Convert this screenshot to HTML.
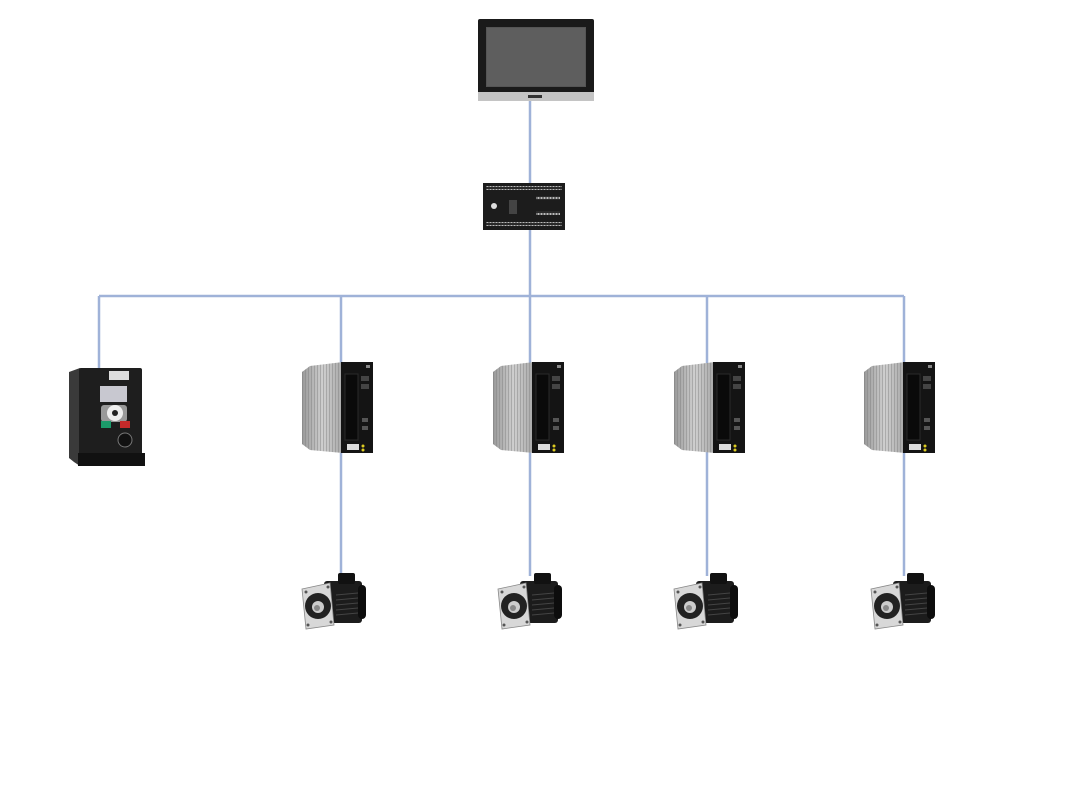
<!DOCTYPE html>
<html><head><meta charset="utf-8"><style>html,body{margin:0;padding:0;background:#fff}svg{display:block}</style></head>
<body>
<svg width="1080" height="800" viewBox="0 0 1080 800" xmlns="http://www.w3.org/2000/svg">
<defs>
<linearGradient id="hs" x1="0" x2="1">
<stop offset="0" stop-color="#999"/><stop offset="0.5" stop-color="#cfcfcf"/><stop offset="1" stop-color="#a8a8a8"/></linearGradient>
<pattern id="fins" width="3" height="10" patternUnits="userSpaceOnUse"><rect width="1" height="10" fill="#777" opacity="0.4"/></pattern>
<pattern id="dots" width="3" height="4" patternUnits="userSpaceOnUse"><rect width="3" height="4" fill="#2a2a2a"/><rect x="0.5" y="1" width="2" height="2" fill="#bbb"/></pattern>
<g id="drive">
<polygon points="0,10 8,4 41,0 41,91 8,88 0,82" fill="url(#hs)"/>
<polygon points="0,10 8,4 41,0 41,91 8,88 0,82" fill="url(#fins)"/>
<rect x="39" y="0" width="32" height="91" fill="#141414"/>
<rect x="43" y="12" width="13" height="66" fill="#0a0a0a" stroke="#2a2a2a"/>
<rect x="59" y="14" width="8" height="5" fill="#444"/>
<rect x="59" y="22" width="8" height="5" fill="#444"/>
<rect x="60" y="56" width="6" height="4" fill="#555"/>
<rect x="60" y="64" width="6" height="4" fill="#555"/>
<rect x="45" y="82" width="12" height="6" fill="#ddd"/>
<circle cx="61" cy="84" r="1.5" fill="#dc2"/>
<circle cx="61" cy="88" r="1.5" fill="#dc2"/>
<rect x="64" y="3" width="4" height="3" fill="#888"/>
</g>
<g id="motor">
<rect x="22" y="8" width="38" height="42" rx="3" fill="#1c1c1c"/>
<rect x="56" y="12" width="8" height="34" rx="4" fill="#0d0d0d"/>
<g stroke="#444" stroke-width="1"><line x1="34" y1="22" x2="56" y2="20"/><line x1="34" y1="27" x2="56" y2="25"/><line x1="34" y1="32" x2="56" y2="30"/><line x1="34" y1="37" x2="56" y2="35"/><line x1="34" y1="42" x2="56" y2="40"/></g>
<rect x="36" y="0" width="17" height="11" rx="2" fill="#111"/>
<polygon points="0,16 28,10 32,52 4,56" fill="#d8d8d8" stroke="#888" stroke-width="0.8"/>
<circle cx="16" cy="33" r="13" fill="#222"/>
<circle cx="16" cy="34" r="6" fill="#ccc"/>
<circle cx="15" cy="35" r="3" fill="#888"/>
<circle cx="4" cy="19" r="1.5" fill="#555"/><circle cx="26" cy="14" r="1.5" fill="#555"/><circle cx="6" cy="52" r="1.5" fill="#555"/><circle cx="29" cy="49" r="1.5" fill="#555"/>
</g>
</defs>

<g stroke="#9fb2d8" stroke-width="2.5" fill="none">
<line x1="530" y1="100" x2="530" y2="296"/>
<line x1="99" y1="296" x2="904" y2="296"/>
<line x1="99" y1="296" x2="99" y2="370"/>
<line x1="341" y1="296" x2="341" y2="576"/>
<line x1="530" y1="296" x2="530" y2="576"/>
<line x1="707" y1="296" x2="707" y2="576"/>
<line x1="904" y1="296" x2="904" y2="576"/>
</g>

<!-- HMI -->
<rect x="478" y="19" width="116" height="82" rx="2" fill="#1a1a1a"/>
<rect x="486" y="27" width="100" height="60" fill="#555"/>
<rect x="487" y="28" width="98" height="58" fill="#5e5e5e"/>
<rect x="478" y="92" width="116" height="9" fill="#c4c4c4"/>
<rect x="528" y="95" width="14" height="3" fill="#333"/>

<!-- PLC -->
<rect x="483" y="183" width="82" height="47" fill="#1c1c1c"/>
<rect x="486" y="186" width="76" height="4" fill="url(#dots)"/>
<rect x="486" y="222" width="76" height="4" fill="url(#dots)"/>
<rect x="536" y="196" width="24" height="4" fill="url(#dots)"/>
<rect x="536" y="211" width="24" height="4" fill="url(#dots)"/>
<rect x="509" y="200" width="8" height="14" fill="#444"/>
<circle cx="494" cy="206" r="3" fill="#ddd"/>

<!-- VFD -->
<polygon points="69,372 80,368 80,466 74,462 69,458" fill="#3a3a3a"/>
<rect x="79" y="368" width="63" height="97" rx="2" fill="#1e1e1e"/>
<rect x="78" y="453" width="67" height="13" fill="#111"/>
<rect x="109" y="371" width="20" height="9" fill="#ddd"/>
<rect x="100" y="386" width="27" height="16" fill="#c8c8d0"/>
<rect x="101" y="405" width="26" height="17" fill="#999" rx="3"/>
<circle cx="115" cy="413" r="8" fill="#eee"/>
<circle cx="115" cy="413" r="3" fill="#222"/>
<rect x="101" y="421" width="10" height="7" fill="#1c9a6a"/>
<rect x="120" y="421" width="10" height="7" fill="#c42a2a"/>
<circle cx="125" cy="440" r="7" fill="#111" stroke="#777"/>

<use href="#drive" x="302" y="362"/>
<use href="#drive" x="493" y="362"/>
<use href="#drive" x="674" y="362"/>
<use href="#drive" x="864" y="362"/>

<use href="#motor" x="302" y="573"/>
<use href="#motor" x="498" y="573"/>
<use href="#motor" x="674" y="573"/>
<use href="#motor" x="871" y="573"/>
</svg>
</body></html>
